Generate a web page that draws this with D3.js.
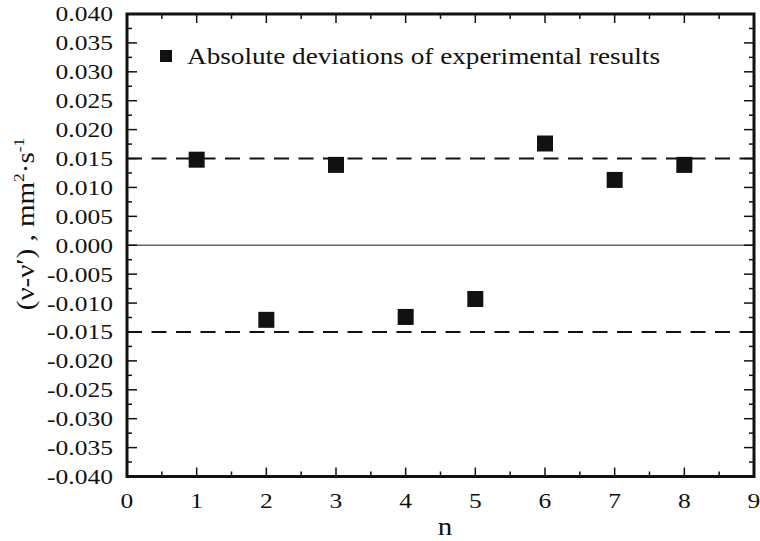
<!DOCTYPE html>
<html>
<head>
<meta charset="utf-8">
<script src="https://cdn.jsdelivr.net/npm/d3@7"></script>
<style>
  body { margin: 0; background: #fff; }
  text { font-family: "Liberation Serif", "Times New Roman", serif; fill: #111; }
</style>
</head>
<body>
<script>
// data
const nValues = [1, 2, 3, 4, 5, 6, 7, 8];
const deviations = [0.0148, -0.0129, 0.0139, -0.0124, -0.0093, 0.0176, 0.0113, 0.0139];
const limits = [0.015, -0.015];
const xTicks = [0, 1, 2, 3, 4, 5, 6, 7, 8, 9];
const yTicks = d3.range(-0.040, 0.0401, 0.005);

const width = 760, height = 541;
const mLeft = 127, mRight = 754, mTop = 14, mBottom = 476.5;
const stretch = 1.16; // reference font is a bit wider than Liberation Serif

const svg = d3.select('body').append('svg')
    .attr('width', width)
    .attr('height', height);

const x = d3.scaleLinear().domain([0, 9]).range([mLeft, mRight]);
const y = d3.scaleLinear().domain([-0.04, 0.04]).range([mBottom, mTop]);

// zero line
svg.append('line')
    .attr('x1', mLeft).attr('x2', mRight)
    .attr('y1', y(0)).attr('y2', y(0))
    .style('stroke', '#666')
    .style('stroke-width', 1.5);

// dashed limits
svg.selectAll('.lim')
    .data(limits)
    .enter()
    .append('line')
    .attr('x1', mLeft).attr('x2', mRight)
    .attr('y1', d => y(d)).attr('y2', d => y(d))
    .style('stroke', '#111')
    .style('stroke-width', 2)
    .style('stroke-dasharray', '15,9.5');

// ticks (inward, all four sides)
const xMinor = d3.range(0.5, 9, 1);
const yMinor = d3.range(-0.0375, 0.04, 0.005);
const tk = svg.append('g').style('stroke', '#111').style('stroke-width', 1.5);
function xt(vals, len) {
    vals.forEach(v => {
        tk.append('line').attr('x1', x(v)).attr('x2', x(v)).attr('y1', mBottom).attr('y2', mBottom - len);
        tk.append('line').attr('x1', x(v)).attr('x2', x(v)).attr('y1', mTop).attr('y2', mTop + len);
    });
}
function yt(vals, len) {
    vals.forEach(v => {
        tk.append('line').attr('y1', y(v)).attr('y2', y(v)).attr('x1', mLeft).attr('x2', mLeft + len);
        tk.append('line').attr('y1', y(v)).attr('y2', y(v)).attr('x1', mRight).attr('x2', mRight - len);
    });
}
xt(xTicks, 9); xt(xMinor, 5);
yt(yTicks, 10); yt(yMinor, 5);

// frame
svg.append('rect')
    .attr('x', mLeft).attr('y', mTop)
    .attr('width', mRight - mLeft).attr('height', mBottom - mTop)
    .style('fill', 'none')
    .style('stroke', '#111')
    .style('stroke-width', 3);

// tick labels
svg.selectAll('.yl')
    .data(yTicks)
    .enter()
    .append('text')
    .attr('transform', d => `translate(${mLeft - 14},${y(d)}) scale(${stretch},1)`)
    .attr('dy', '0.34em')
    .attr('text-anchor', 'end')
    .style('font-size', '22px')
    .text(d => d3.format('.3f')(Math.abs(d) < 1e-9 ? 0 : d).replace('−', '-'));

svg.selectAll('.xl')
    .data(xTicks)
    .enter()
    .append('text')
    .attr('transform', d => `translate(${x(d)},508) scale(${stretch},1)`)
    .attr('text-anchor', 'middle')
    .style('font-size', '22px')
    .text(d => d);

// points
svg.selectAll('.pt')
    .data(nValues)
    .enter()
    .append('rect')
    .attr('x', (d, i) => x(d) - 8)
    .attr('y', (d, i) => y(deviations[i]) - 8)
    .attr('width', 16)
    .attr('height', 16)
    .style('fill', '#111');

// legend
svg.append('rect')
    .attr('x', 160).attr('y', 50)
    .attr('width', 12).attr('height', 12)
    .style('fill', '#111');
svg.append('text')
    .attr('x', 187)
    .attr('y', 64)
    .attr('textLength', 473)
    .attr('lengthAdjust', 'spacingAndGlyphs')
    .style('font-size', '24px')
    .text('Absolute deviations of experimental results');

// axis titles
svg.append('text')
    .attr('transform', `translate(445,535) scale(${stretch},1)`)
    .attr('text-anchor', 'middle')
    .style('font-size', '25px')
    .text('n');

const yl = svg.append('text')
    .attr('transform', `translate(34,224) rotate(-90) scale(${stretch},1)`)
    .attr('text-anchor', 'middle')
    .style('font-size', '25px');
yl.append('tspan').text('(ν-ν′) , mm');
yl.append('tspan').attr('dy', -10).style('font-size', '15px').text('2');
yl.append('tspan').attr('dy', 10).text('·s');
yl.append('tspan').attr('dy', -10).style('font-size', '15px').text('-1');
</script>
</body>
</html>
